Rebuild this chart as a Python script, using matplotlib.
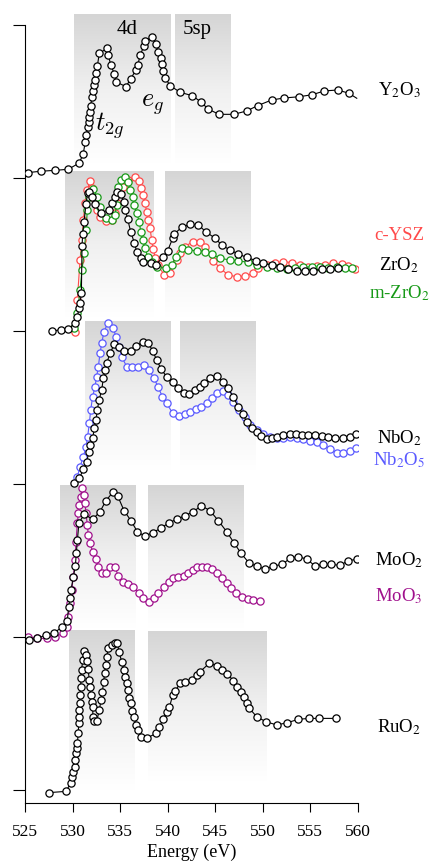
import numpy as np
import matplotlib
matplotlib.use("Agg")
import matplotlib.pyplot as plt
from matplotlib.colors import LinearSegmentedColormap

plt.rcParams["font.family"] = ["Liberation Serif", "DejaVu Serif"]
plt.rcParams["mathtext.fontset"] = "stix"

# ---- spectra: energy (eV) and intensity above each trace's offset ----
y2o3_e = [525.28, 526.65, 528.19, 529.56, 530.71, 531.13, 531.34, 531.45, 531.60, 531.70,
          531.76, 531.84, 531.91, 532.05, 532.19, 532.26, 532.33, 532.50, 532.61, 532.82,
          533.66, 533.76, 534.02, 534.40, 534.61, 535.63, 536.12, 536.68, 536.86, 537.13,
          537.52, 537.66, 538.39, 538.75, 539.02, 539.28, 539.41, 539.52, 539.70, 540.29,
          541.31, 542.60, 543.55, 544.25, 545.41, 546.96, 548.32, 549.48, 550.96, 552.28,
          553.83, 555.20, 556.49, 557.90, 559.06, 559.90]
y2o3_i = [0.035, 0.044, 0.050, 0.057, 0.098, 0.159, 0.235, 0.279, 0.333, 0.366,
          0.401, 0.433, 0.471, 0.531, 0.571, 0.608, 0.642, 0.684, 0.732, 0.815,
          0.848, 0.804, 0.739, 0.680, 0.627, 0.597, 0.649, 0.706, 0.739, 0.804,
          0.865, 0.895, 0.924, 0.878, 0.825, 0.782, 0.743, 0.699, 0.656, 0.603,
          0.560, 0.538, 0.495, 0.451, 0.416, 0.416, 0.438, 0.473, 0.510, 0.523,
          0.531, 0.544, 0.569, 0.575, 0.554, 0.521]

zro2_e = [527.81, 528.75, 529.56, 530.30, 530.51, 530.68, 530.79, 530.93, 531.00, 531.07,
          531.21, 531.42, 531.59, 531.70, 532.01, 532.36, 532.96, 533.80, 534.19, 534.50,
          534.64, 535.10, 535.38, 535.56, 535.80, 536.12, 536.50, 536.75, 537.17, 537.45,
          538.22, 538.75, 539.48, 540.01, 540.54, 540.71, 541.48, 542.36, 543.24, 544.01,
          545.00, 545.69, 546.57, 547.44, 548.32, 549.30, 550.07, 550.95, 551.83, 552.70,
          553.58, 554.46, 555.33, 556.21, 557.09, 557.90]
zro2_i = [0.000, 0.007, 0.013, 0.054, 0.094, 0.148, 0.181, 0.246, 0.556, 0.634,
          0.715, 0.830, 0.900, 0.911, 0.874, 0.830, 0.773, 0.791, 0.834, 0.874,
          0.911, 0.895, 0.845, 0.791, 0.730, 0.649, 0.577, 0.519, 0.479, 0.453,
          0.442, 0.431, 0.481, 0.525, 0.606, 0.634, 0.678, 0.697, 0.693, 0.649,
          0.606, 0.562, 0.529, 0.503, 0.481, 0.460, 0.442, 0.431, 0.420, 0.405,
          0.392, 0.392, 0.392, 0.405, 0.403, 0.410]

ysz_e = [530.26, 530.51, 530.79, 531.00, 531.14, 531.31, 531.56, 531.84, 532.01, 532.22,
         532.54, 532.89, 533.52, 534.12, 534.47, 534.71, 534.92, 535.28, 535.87, 536.57,
         537.03, 537.24, 537.45, 537.62, 537.80, 537.98, 538.15, 538.33, 538.50, 538.71,
         538.96, 539.66, 540.26, 540.96, 541.31, 541.83, 542.64, 543.41, 543.94, 544.81,
         545.52, 546.39, 547.27, 548.15, 549.02, 549.55, 550.43, 551.30, 552.18, 553.06,
         553.93, 554.81, 555.69, 556.56, 557.44, 558.32, 559.02, 559.72]
ysz_i = [-0.004, 0.203, 0.464, 0.595, 0.725, 0.834, 0.922, 0.983, 0.932, 0.867,
         0.791, 0.747, 0.721, 0.725, 0.769, 0.834, 0.900, 0.943, 0.987, 1.004,
         0.983, 0.935, 0.889, 0.834, 0.780, 0.725, 0.671, 0.595, 0.534, 0.475,
         0.431, 0.366, 0.381, 0.464, 0.508, 0.551, 0.584, 0.584, 0.547, 0.460,
         0.410, 0.366, 0.355, 0.359, 0.377, 0.410, 0.431, 0.442, 0.453, 0.447,
         0.431, 0.420, 0.425, 0.431, 0.442, 0.438, 0.425, 0.403]

mzro2_e = [530.16, 530.51, 530.79, 531.00, 531.21, 531.42, 531.56, 531.77, 532.19, 532.54,
           532.89, 533.52, 534.12, 534.47, 534.64, 534.82, 535.10, 535.52, 535.87, 536.05,
           536.33, 536.47, 536.75, 537.03, 537.17, 537.38, 537.62, 537.91, 538.36, 538.85,
           539.80, 540.43, 540.89, 541.48, 542.18, 543.06, 543.94, 544.64, 545.52, 546.57,
           547.44, 548.50, 549.37, 550.43, 551.48, 552.53, 553.41, 554.28, 555.16, 556.04,
           556.91, 557.79, 558.67, 559.37]
mzro2_i = [0.017, 0.115, 0.268, 0.399, 0.508, 0.660, 0.791, 0.878, 0.926, 0.878,
           0.813, 0.736, 0.725, 0.758, 0.824, 0.943, 0.987, 1.009, 0.976, 0.922,
           0.878, 0.824, 0.769, 0.715, 0.649, 0.595, 0.540, 0.486, 0.453, 0.420,
           0.410, 0.431, 0.486, 0.540, 0.529, 0.525, 0.519, 0.501, 0.475, 0.464,
           0.458, 0.449, 0.431, 0.420, 0.410, 0.403, 0.410, 0.416, 0.420, 0.416,
           0.414, 0.416, 0.410, 0.410]

nbo2_e = [530.16, 530.72, 531.14, 531.49, 531.73, 531.84, 532.12, 532.29, 532.47, 532.61,
          532.79, 533.07, 533.24, 533.45, 533.59, 533.94, 534.40, 534.89, 535.45, 536.12,
          536.68, 537.38, 537.98, 538.43, 538.85, 539.34, 539.90, 540.54, 541.13, 541.76,
          542.29, 542.89, 543.41, 543.83, 544.46, 545.16, 545.80, 546.39, 546.92, 547.44,
          547.90, 548.32, 548.85, 549.37, 549.83, 550.43, 550.95, 551.48, 552.18, 552.88,
          553.51, 554.11, 554.81, 555.51, 556.21, 556.91, 557.61, 558.42, 559.19, 559.82]
nbo2_i = [0.004, 0.037, 0.096, 0.146, 0.211, 0.255, 0.298, 0.364, 0.418, 0.484,
          0.549, 0.614, 0.691, 0.745, 0.789, 0.853, 0.915, 0.898, 0.871, 0.871,
          0.902, 0.926, 0.919, 0.871, 0.810, 0.749, 0.701, 0.669, 0.629, 0.597,
          0.588, 0.614, 0.632, 0.662, 0.691, 0.706, 0.669, 0.625, 0.566, 0.505,
          0.458, 0.407, 0.364, 0.342, 0.314, 0.292, 0.298, 0.305, 0.320, 0.327,
          0.325, 0.320, 0.320, 0.318, 0.314, 0.309, 0.303, 0.298, 0.305, 0.325]

nb2o5_e = [530.51, 530.79, 531.14, 531.42, 531.59, 531.77, 531.91, 532.12, 532.36, 532.54,
           532.72, 532.89, 533.07, 533.31, 533.73, 534.29, 534.57, 534.89, 535.17, 535.70,
           536.29, 536.92, 537.52, 538.05, 538.57, 538.99, 539.45, 539.90, 540.54, 541.20,
           541.83, 542.36, 542.96, 543.52, 544.11, 544.67, 545.24, 545.80, 546.39, 546.92,
           547.55, 548.15, 548.67, 549.37, 550.07, 550.78, 551.48, 552.18, 552.88, 553.58,
           554.28, 554.98, 555.69, 556.39, 557.09, 557.79, 558.49, 559.19, 559.82]
nb2o5_i = [0.048, 0.113, 0.179, 0.244, 0.309, 0.397, 0.484, 0.571, 0.636, 0.702,
           0.767, 0.854, 0.919, 0.996, 1.054, 1.017, 0.963, 0.898, 0.832, 0.767,
           0.763, 0.767, 0.778, 0.745, 0.691, 0.636, 0.571, 0.527, 0.462, 0.444,
           0.458, 0.473, 0.488, 0.501, 0.532, 0.560, 0.597, 0.610, 0.582, 0.538,
           0.484, 0.440, 0.386, 0.353, 0.327, 0.305, 0.298, 0.303, 0.305, 0.298,
           0.292, 0.283, 0.277, 0.255, 0.227, 0.205, 0.205, 0.218, 0.237]

moo2_e = [525.46, 526.30, 527.21, 528.09, 528.86, 529.45, 529.59, 529.73, 529.84, 530.09,
          530.30, 530.40, 530.51, 530.68, 531.24, 532.12, 532.89, 533.52, 534.29, 534.75,
          535.42, 536.15, 536.82, 537.59, 538.43, 539.27, 540.15, 540.96, 541.83, 542.71,
          543.55, 544.46, 545.34, 546.22, 547.02, 547.73, 548.60, 549.37, 550.29, 551.13,
          552.07, 552.88, 553.69, 554.63, 555.51, 556.39, 557.19, 558.14, 559.02, 559.89]
moo2_i = [-0.020, -0.009, 0.013, 0.028, 0.063, 0.107, 0.194, 0.253, 0.307, 0.394,
          0.466, 0.547, 0.634, 0.747, 0.802, 0.769, 0.819, 0.891, 0.950, 0.922,
          0.826, 0.760, 0.688, 0.660, 0.682, 0.710, 0.747, 0.769, 0.793, 0.819,
          0.858, 0.826, 0.760, 0.688, 0.612, 0.547, 0.481, 0.464, 0.442, 0.464,
          0.475, 0.514, 0.525, 0.510, 0.464, 0.475, 0.475, 0.468, 0.499, 0.508]

moo3_e = [525.35, 526.23, 527.28, 528.16, 529.03, 529.38, 529.56, 529.73, 529.91, 530.09,
          530.26, 530.37, 530.51, 530.61, 530.72, 530.86, 531.00, 531.21, 531.31, 531.42,
          531.56, 531.66, 531.84, 532.12, 532.43, 532.72, 533.07, 533.52, 533.94, 534.47,
          534.82, 535.35, 535.87, 536.40, 537.03, 537.45, 538.08, 538.57, 539.03, 539.62,
          540.19, 540.61, 541.13, 541.73, 542.18, 542.64, 543.06, 543.59, 544.11, 544.64,
          545.16, 545.69, 546.22, 546.67, 547.20, 547.80, 548.43, 549.02, 549.72]
moo3_i = [0.002, -0.009, -0.009, 0.002, 0.024, 0.068, 0.133, 0.220, 0.307, 0.394,
          0.503, 0.623, 0.743, 0.808, 0.863, 0.917, 0.972, 0.928, 0.874, 0.808,
          0.732, 0.667, 0.612, 0.558, 0.508, 0.460, 0.420, 0.416, 0.460, 0.455,
          0.399, 0.362, 0.344, 0.329, 0.285, 0.253, 0.231, 0.253, 0.285, 0.325,
          0.362, 0.383, 0.394, 0.399, 0.416, 0.438, 0.455, 0.460, 0.455, 0.442,
          0.416, 0.383, 0.351, 0.318, 0.285, 0.259, 0.246, 0.242, 0.235]

ruo2_e = [527.56, 529.31, 529.80, 529.91, 530.09, 530.23, 530.30, 530.37, 530.44, 530.51,
          530.61, 530.65, 530.68, 530.72, 530.79, 530.82, 530.86, 530.89, 530.96, 531.07,
          531.21, 531.42, 531.56, 531.63, 531.77, 531.84, 531.94, 532.01, 532.12, 532.15,
          532.26, 532.54, 532.82, 533.00, 533.14, 533.28, 533.38, 533.49, 533.59, 533.77,
          534.12, 534.47, 534.71, 534.89, 535.17, 535.42, 535.52, 535.70, 535.84, 535.98,
          536.15, 536.29, 536.47, 536.68, 536.92, 537.24, 537.80, 538.78, 539.13, 539.55,
          539.90, 540.19, 540.54, 540.82, 541.31, 541.87, 542.60, 543.06, 543.41, 544.39,
          545.16, 545.69, 546.29, 546.92, 547.27, 547.69, 548.08, 548.39, 548.60, 549.37,
          550.32, 551.48, 552.60, 553.76, 554.88, 555.93, 557.72]
ruo2_i = [-0.017, -0.009, 0.044, 0.087, 0.120, 0.153, 0.196, 0.240, 0.272, 0.309,
          0.375, 0.436, 0.479, 0.523, 0.566, 0.621, 0.675, 0.730, 0.784, 0.850,
          0.911, 0.882, 0.845, 0.789, 0.719, 0.675, 0.621, 0.577, 0.540, 0.479,
          0.451, 0.449, 0.523, 0.588, 0.643, 0.708, 0.763, 0.817, 0.871, 0.926,
          0.948, 0.963, 0.963, 0.904, 0.839, 0.784, 0.741, 0.697, 0.654, 0.599,
          0.566, 0.519, 0.475, 0.425, 0.392, 0.344, 0.338, 0.370, 0.414, 0.462,
          0.512, 0.540, 0.621, 0.649, 0.697, 0.708, 0.719, 0.752, 0.773, 0.828,
          0.813, 0.784, 0.758, 0.715, 0.675, 0.643, 0.606, 0.571, 0.534, 0.479,
          0.447, 0.425, 0.440, 0.462, 0.468, 0.468, 0.468]

# vertical offset of each panel
offsets = {"Y2O3": 4, "ZrO2": 3, "NbO2": 2, "MoO2": 1, "RuO2": 0}

# shaded energy windows per panel: (e_lo, e_hi, y_lo, y_hi)
windows = [
    (530.16, 540.33, 4.10, 5.07), (540.78, 546.57, 4.10, 5.07),
    (529.21, 538.57, 3.09, 4.04), (539.73, 548.75, 3.09, 4.04),
    (531.34, 540.36, 2.09, 3.06), (541.31, 549.20, 2.09, 3.06),
    (528.68, 536.57, 1.06, 1.99), (537.97, 548.04, 1.06, 1.99),
    (529.66, 536.57, 0.00, 1.04), (537.97, 550.43, 0.06, 1.04),
]

fig = plt.figure(figsize=(4.30, 8.64), dpi=100)
ax = fig.add_axes([0.0581, 0.0706, 0.7738, 0.9182])

fade = LinearSegmentedColormap.from_list("fade", ["#ffffff", "#f0f0f0", "#d5d5d5"])
grad = np.linspace(0, 1, 256).reshape(-1, 1)
for e0, e1, y0, y1 in windows:
    ax.imshow(grad, extent=[e0, e1, y0, y1], origin="lower", aspect="auto",
              cmap=fade, zorder=0, interpolation="bilinear")


def trace(e, i, off, color, line=False, **kw):
    y = np.asarray(i) + off
    ax.plot(e, y, "-" if line else "none", color=color, lw=0.8,
            marker="o", ms=5.2, mfc="white", mec=color, mew=0.9, **kw)


trace(ysz_e, ysz_i, offsets["ZrO2"], "#ff4a4a", zorder=2)
trace(mzro2_e, mzro2_i, offsets["ZrO2"], "#179917", zorder=3)
trace(zro2_e, zro2_i, offsets["ZrO2"], "black", line=True, zorder=4)

trace(nb2o5_e, nb2o5_i, offsets["NbO2"], "#5a5aff", zorder=2)
trace(nbo2_e, nbo2_i, offsets["NbO2"], "black", line=True, zorder=4)

trace(moo3_e, moo3_i, offsets["MoO2"], "#a0108c", zorder=2)
trace(moo2_e, moo2_i, offsets["MoO2"], "black", line=True, zorder=4)

trace(ruo2_e, ruo2_i, offsets["RuO2"], "black", line=True, zorder=4)
trace(y2o3_e, y2o3_i, offsets["Y2O3"], "black", line=True, zorder=4,
      markevery=slice(0, len(y2o3_e) - 1))

# labels
lab_x = 564.35
lab_kw = dict(ha="center", va="center", fontsize=13.5, math_fontfamily="stix",
              clip_on=False)
ax.text(lab_x, 4.575, "Y$_2$O$_3$", color="black", **lab_kw)
ax.text(lab_x, 3.627, "c-YSZ", color="#ff4a4a", **lab_kw)
ax.text(lab_x, 3.43, "ZrO$_2$", color="black", **lab_kw)
ax.text(lab_x, 3.246, "m-ZrO$_2$", color="#179917", **lab_kw)
ax.text(lab_x, 2.302, "NbO$_2$", color="black", **lab_kw)
ax.text(lab_x, 2.157, "Nb$_2$O$_5$", color="#5a5aff", **lab_kw)
ax.text(lab_x, 1.499, "MoO$_2$", color="black", **lab_kw)
ax.text(lab_x, 1.268, "MoO$_3$", color="#a0108c", **lab_kw)
ax.text(lab_x, 0.414, "RuO$_2$", color="black", **lab_kw)

ax.text(535.73, 4.972, "4d", ha="center", va="center", fontsize=15)
ax.text(543.10, 4.972, "5sp", ha="center", va="center", fontsize=15)
ax.text(532.40, 4.309, "$t_{2g}$", ha="left", va="baseline", fontsize=19,
        math_fontfamily="cm")
ax.text(537.25, 4.47, "$e_g$", ha="left", va="baseline", fontsize=19,
        math_fontfamily="cm")

ax.set_xlim(525, 560)
ax.set_ylim(-0.085, 5.1)
ax.set_xticks(np.arange(525, 561, 5))
ax.set_yticks(np.arange(0, 6, 1))
ax.set_yticklabels([])
ax.spines["top"].set_visible(False)
ax.spines["right"].set_visible(False)
ax.spines["left"].set_bounds(-0.085, 5.0)
ax.tick_params(axis="x", direction="out", length=6.5, width=0.8, labelsize=12.5, pad=8.5)
ax.tick_params(axis="y", direction="out", length=8.5, width=0.8)
ax.set_xlabel("Energy (eV)", fontsize=13, labelpad=3)

fig.savefig("out.png", dpi=100)
